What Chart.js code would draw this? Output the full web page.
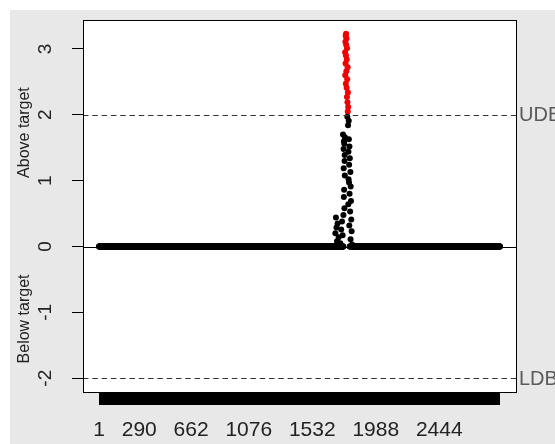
<!DOCTYPE html>
<html><head><meta charset="utf-8">
<script src="https://cdn.jsdelivr.net/npm/chart.js@4/dist/chart.umd.min.js"></script>
<style>
html,body{margin:0;padding:0;background:#fff;width:555px;height:444px;overflow:hidden;}
#wrap{position:absolute;left:10px;top:10px;width:545px;height:434px;background:#e8e8e8;}
canvas{display:block;}
</style></head><body>
<div id="wrap"><canvas id="c" width="545" height="434"></canvas></div>
<script>
// ---- data ----
const nObs = 2880;                       // number of observations (x index 1..nObs)
const xTickValues = [1, 290, 662, 1076, 1532, 1988, 2444];
const xTickLabels = ['1', '290', '662', '1076', '1532', '1988', '2444'];
const yTickValues = [-2, -1, 0, 1, 2, 3];
const upperBound = 2;                    // UDB
const lowerBound = -2;                   // LDB
const boundLabels = ['UDB', 'LDB'];
const yTitles = ['Above target', 'Below target'];
// observations that differ from 0 (all others are 0)
const spikeIndex = [1775,1772,1778,1770,1776,1782,1768,1774,1780,1771,1786,1777,1769,1783,1773,1779,1788,1781,1785,1790,1787,
  1784,1794,1789,1753,1767,1795,1760,1762,1799,1757,1792,1765,1802,1764,1797,1758,1806,1766,1793,1796,1808,1761,1800,1759,
  1810,1791,1763,1804,1756,1702,1812,1746,1714,1798,1706,1740,1815,1698,1750,1722,1807,1710,1734,1818];
const spikeValue = [3.23,3.20,3.16,3.11,3.06,3.01,2.95,2.90,2.84,2.78,2.72,2.66,2.60,2.54,2.47,2.41,2.34,2.27,2.19,2.12,2.05,
  1.97,1.91,1.84,1.70,1.66,1.63,1.60,1.56,1.52,1.48,1.44,1.39,1.34,1.30,1.24,1.19,1.13,1.08,1.02,0.97,0.91,0.86,0.80,0.75,
  0.69,0.64,0.58,0.53,0.48,0.44,0.41,0.38,0.35,0.32,0.29,0.26,0.23,0.20,0.17,0.14,0.11,0.08,0.05,0.03];

// ---- build points ----
const spikeSet = new Set(spikeIndex);
const pts = [];
for (let i = 1; i <= nObs; i++) if (!spikeSet.has(i)) pts.push({x: i, y: 0});
spikeIndex.forEach((ix, k) => pts.push({x: ix, y: spikeValue[k]}));
const allX = [];
for (let i = 1; i <= nObs; i++) allX.push(i);
const vMax = Math.max(...spikeValue);
const yMin = lowerBound - 0.04 * (vMax - lowerBound);
const yMax = vMax + 0.04 * (vMax - lowerBound);
const xMin = 1 - 0.04 * (nObs - 1), xMax = nObs + 0.04 * (nObs - 1);
const labelMap = new Map(xTickValues.map((v, i) => [v, xTickLabels[i]]));

const FONT = '"Liberation Sans", Arial, sans-serif';

const decor = {
  id: 'decor',
  beforeDraw(chart) {
    const {ctx, chartArea: a} = chart;
    ctx.save(); ctx.fillStyle = '#ffffff';
    ctx.fillRect(a.left, a.top, a.right - a.left, a.bottom - a.top); ctx.restore();
  },
  beforeDatasetsDraw(chart) {
    const {ctx, chartArea: a, scales: {y}} = chart;
    ctx.save();
    ctx.strokeStyle = '#000'; ctx.lineWidth = 1;
    const y0 = Math.round(y.getPixelForValue(0)) + 0.5;
    ctx.beginPath(); ctx.moveTo(a.left, y0); ctx.lineTo(a.right, y0); ctx.stroke();
    ctx.restore();
  },
  afterDatasetsDraw(chart) {
    const {ctx, chartArea: a, scales: {y}} = chart;
    ctx.save();
    ctx.strokeStyle = '#333'; ctx.lineWidth = 1; ctx.setLineDash([5.5, 3.8]);
    [upperBound, lowerBound].forEach(v => {
      const py = Math.round(y.getPixelForValue(v)) + 0.5;
      ctx.beginPath(); ctx.moveTo(a.left, py); ctx.lineTo(a.right, py); ctx.stroke();
    });
    ctx.setLineDash([]);
    ctx.strokeStyle = '#000';
    ctx.strokeRect(Math.round(a.left) + 0.5, Math.round(a.top) + 0.5, Math.round(a.right - a.left), Math.round(a.bottom - a.top));
    // bound labels
    ctx.fillStyle = '#5a5a5a'; ctx.font = '20px ' + FONT;
    ctx.textAlign = 'left'; ctx.textBaseline = 'middle';
    ctx.fillText(boundLabels[0], a.right + 3, y.getPixelForValue(upperBound) + 1);
    ctx.fillText(boundLabels[1], a.right + 3, y.getPixelForValue(lowerBound) + 1);
    // rotated y tick labels
    ctx.fillStyle = '#222'; ctx.font = '19px ' + FONT;
    ctx.textAlign = 'center'; ctx.textBaseline = 'middle';
    y.ticks.forEach(t => {
      ctx.save();
      ctx.translate(a.left - 37, y.getPixelForValue(t.value));
      ctx.rotate(-Math.PI / 2);
      ctx.fillText(String(t.value), 0, 0);
      ctx.restore();
    });
    // y titles
    ctx.font = '16px ' + FONT;
    [[yTitles[0], 1.73], [yTitles[1], -1.1]].forEach(([txt, v]) => {
      ctx.save();
      ctx.translate(a.left - 58, y.getPixelForValue(v));
      ctx.rotate(-Math.PI / 2);
      ctx.fillText(txt, 0, 0);
      ctx.restore();
    });
    ctx.restore();
  }
};

new Chart(document.getElementById('c'), {
  type: 'scatter',
  data: { datasets: [{
    data: pts,
    pointRadius: 3,
    pointBorderWidth: 0,
    pointBackgroundColor: c => (c.raw && c.raw.y > upperBound) ? '#ee0000' : '#000000',
    pointBorderColor: 'rgba(0,0,0,0)',
    showLine: false
  }]},
  options: {
    responsive: false, animation: false, devicePixelRatio: 1,
    layout: { padding: { top: 10, right: 39, left: 0, bottom: 0 } },
    plugins: { legend: { display: false }, tooltip: { enabled: false } },
    scales: {
      x: {
        type: 'linear', min: xMin, max: xMax,
        afterBuildTicks: s => { s.ticks = allX.map(v => ({value: v})); },
        afterFit: s => { s.height = 52; },
        border: { display: false },
        grid: { drawOnChartArea: false, drawTicks: true, tickLength: 13, color: '#000', lineWidth: 1 },
        ticks: {
          autoSkip: false, maxRotation: 0, minRotation: 0, padding: 13,
          color: '#222', font: { family: FONT, size: 21 },
          callback: v => labelMap.has(v) ? labelMap.get(v) : ''
        }
      },
      y: {
        type: 'linear', min: yMin, max: yMax,
        afterBuildTicks: s => { s.ticks = yTickValues.map(v => ({value: v})); },
        afterFit: s => { s.width = 73; },
        border: { display: false },
        grid: { drawOnChartArea: false, drawTicks: true, tickLength: 11, color: '#000', lineWidth: 1 },
        ticks: { display: false }
      }
    }
  },
  plugins: [decor]
});
</script>
</body></html>
